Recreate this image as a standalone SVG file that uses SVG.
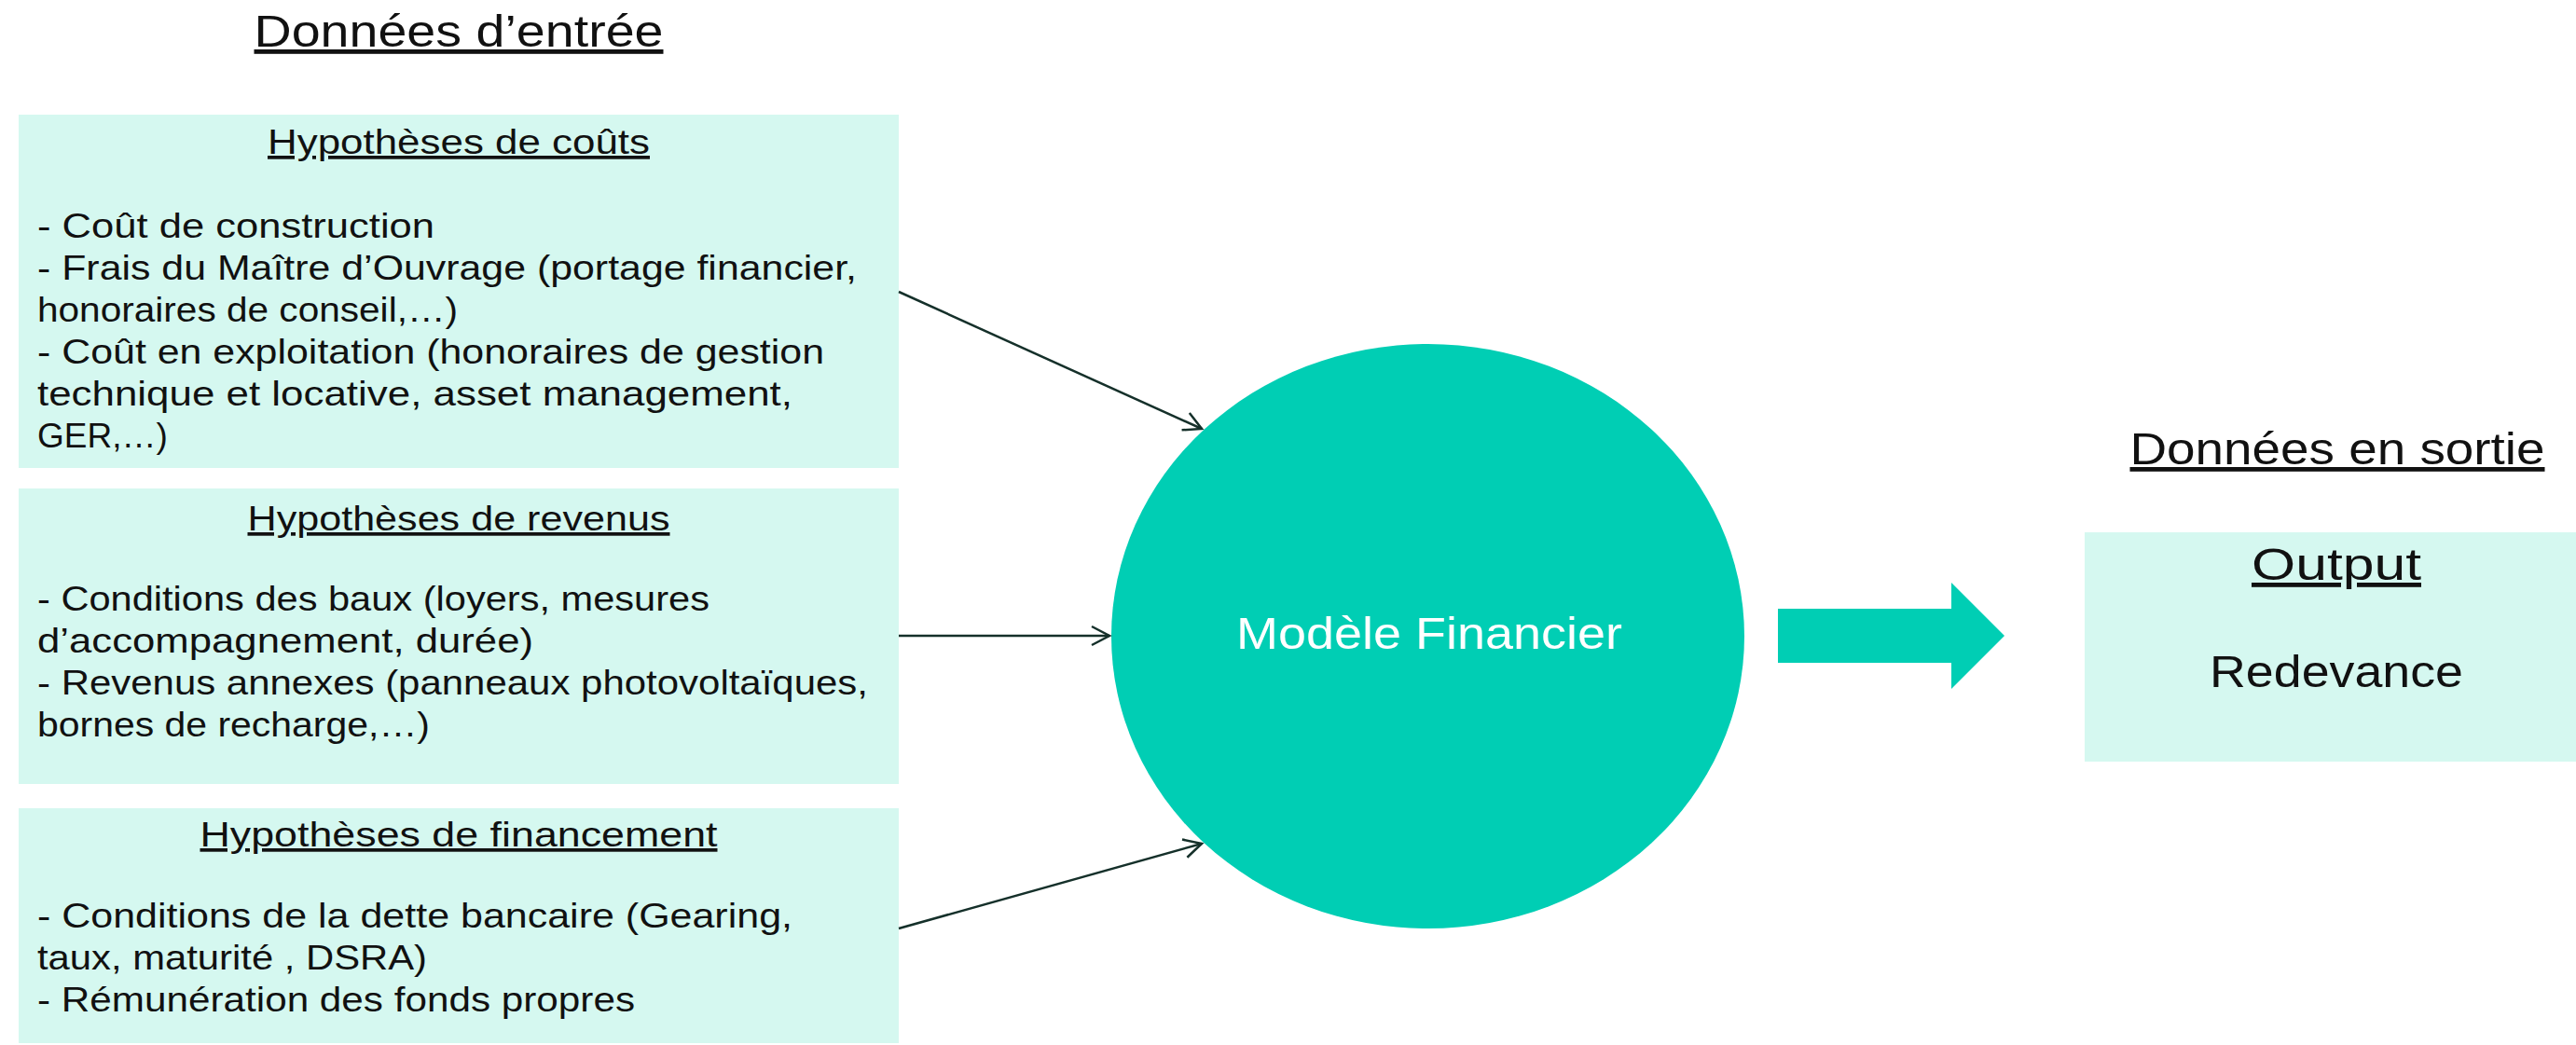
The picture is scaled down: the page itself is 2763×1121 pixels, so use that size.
<svg xmlns="http://www.w3.org/2000/svg" width="2763" height="1121" viewBox="0 0 2763 1121">
<defs>
<style>
.box{fill:#D5F8F0;}
.t{font-family:"Liberation Sans",Arial,sans-serif;fill:#111111;}
.h{font-size:37px;text-decoration:underline;}
.b{font-size:37px;}
.big{font-size:48px;}
.u{text-decoration:underline;}
.conn{stroke:#15302A;stroke-width:2.5;fill:none;}
</style>
<marker id="open" markerUnits="userSpaceOnUse" markerWidth="24" markerHeight="24" refX="19" refY="10" orient="auto" overflow="visible">
<path d="M0,0 L19,10 L0,20" fill="none" stroke="#15302A" stroke-width="2.5"/>
</marker>
</defs>
<rect width="2763" height="1121" fill="#FFFFFF"/>

<g id="title-entree">
<text class="t big u" x="492" y="50" text-anchor="middle" textLength="439" lengthAdjust="spacingAndGlyphs">Données d’entrée</text>
</g>

<g id="box-couts">
<rect class="box" x="20" y="123" width="944" height="379"/>
<text class="t h" x="492" y="165" text-anchor="middle" textLength="410" lengthAdjust="spacingAndGlyphs">Hypothèses de coûts</text>
<text class="t b" x="40" y="255" textLength="426" lengthAdjust="spacingAndGlyphs">- Coût de construction</text>
<text class="t b" x="40" y="300" textLength="879" lengthAdjust="spacingAndGlyphs">- Frais du Maître d’Ouvrage (portage financier,</text>
<text class="t b" x="40" y="345" textLength="451" lengthAdjust="spacingAndGlyphs">honoraires de conseil,…)</text>
<text class="t b" x="40" y="390" textLength="844" lengthAdjust="spacingAndGlyphs">- Coût en exploitation (honoraires de gestion</text>
<text class="t b" x="40" y="435" textLength="810" lengthAdjust="spacingAndGlyphs">technique et locative, asset management,</text>
<text class="t b" x="40" y="480">GER,…)</text>
</g>

<g id="box-revenus">
<rect class="box" x="20" y="524" width="944" height="317"/>
<text class="t h" x="492" y="569" text-anchor="middle" textLength="453" lengthAdjust="spacingAndGlyphs">Hypothèses de revenus</text>
<text class="t b" x="40" y="655" textLength="721" lengthAdjust="spacingAndGlyphs">- Conditions des baux (loyers, mesures</text>
<text class="t b" x="40" y="700" textLength="532" lengthAdjust="spacingAndGlyphs">d’accompagnement, durée)</text>
<text class="t b" x="40" y="745" textLength="891" lengthAdjust="spacingAndGlyphs">- Revenus annexes (panneaux photovoltaïques,</text>
<text class="t b" x="40" y="790" textLength="421" lengthAdjust="spacingAndGlyphs">bornes de recharge,…)</text>
</g>

<g id="box-financement">
<rect class="box" x="20" y="867" width="944" height="252"/>
<text class="t h" x="492" y="908" text-anchor="middle" textLength="555" lengthAdjust="spacingAndGlyphs">Hypothèses de financement</text>
<text class="t b" x="40" y="995" textLength="810" lengthAdjust="spacingAndGlyphs">- Conditions de la dette bancaire (Gearing,</text>
<text class="t b" x="40" y="1040" textLength="418" lengthAdjust="spacingAndGlyphs">taux, maturité , DSRA)</text>
<text class="t b" x="40" y="1085" textLength="641" lengthAdjust="spacingAndGlyphs">- Rémunération des fonds propres</text>
</g>

<g id="modele-financier">
<ellipse cx="1531.5" cy="682.5" rx="339.5" ry="313.5" fill="#00CEB4"/>
<text x="1533" y="696" text-anchor="middle" font-family="Liberation Sans, Arial, sans-serif" font-size="48" fill="#FFFFFF" textLength="414" lengthAdjust="spacingAndGlyphs">Modèle Financier</text>
</g>

<g id="connectors">
<path class="conn" d="M964,313 L1289,460" marker-end="url(#open)"/>
<path class="conn" d="M964,682 L1190,682" marker-end="url(#open)"/>
<path class="conn" d="M964,996 L1289,905" marker-end="url(#open)"/>
<polygon points="1907,653 2093,653 2093,625 2150,682 2093,739 2093,711 1907,711" fill="#00CEB4"/>
</g>

<g id="title-sortie">
<text class="t big u" x="2507" y="498" text-anchor="middle" textLength="445" lengthAdjust="spacingAndGlyphs">Données en sortie</text>
</g>

<g id="box-output">
<rect class="box" x="2236" y="571" width="527" height="246"/>
<text class="t big u" x="2506" y="622" text-anchor="middle" textLength="182" lengthAdjust="spacingAndGlyphs">Output</text>
<text class="t big" x="2506" y="737" text-anchor="middle" textLength="272" lengthAdjust="spacingAndGlyphs">Redevance</text>
</g>
</svg>
